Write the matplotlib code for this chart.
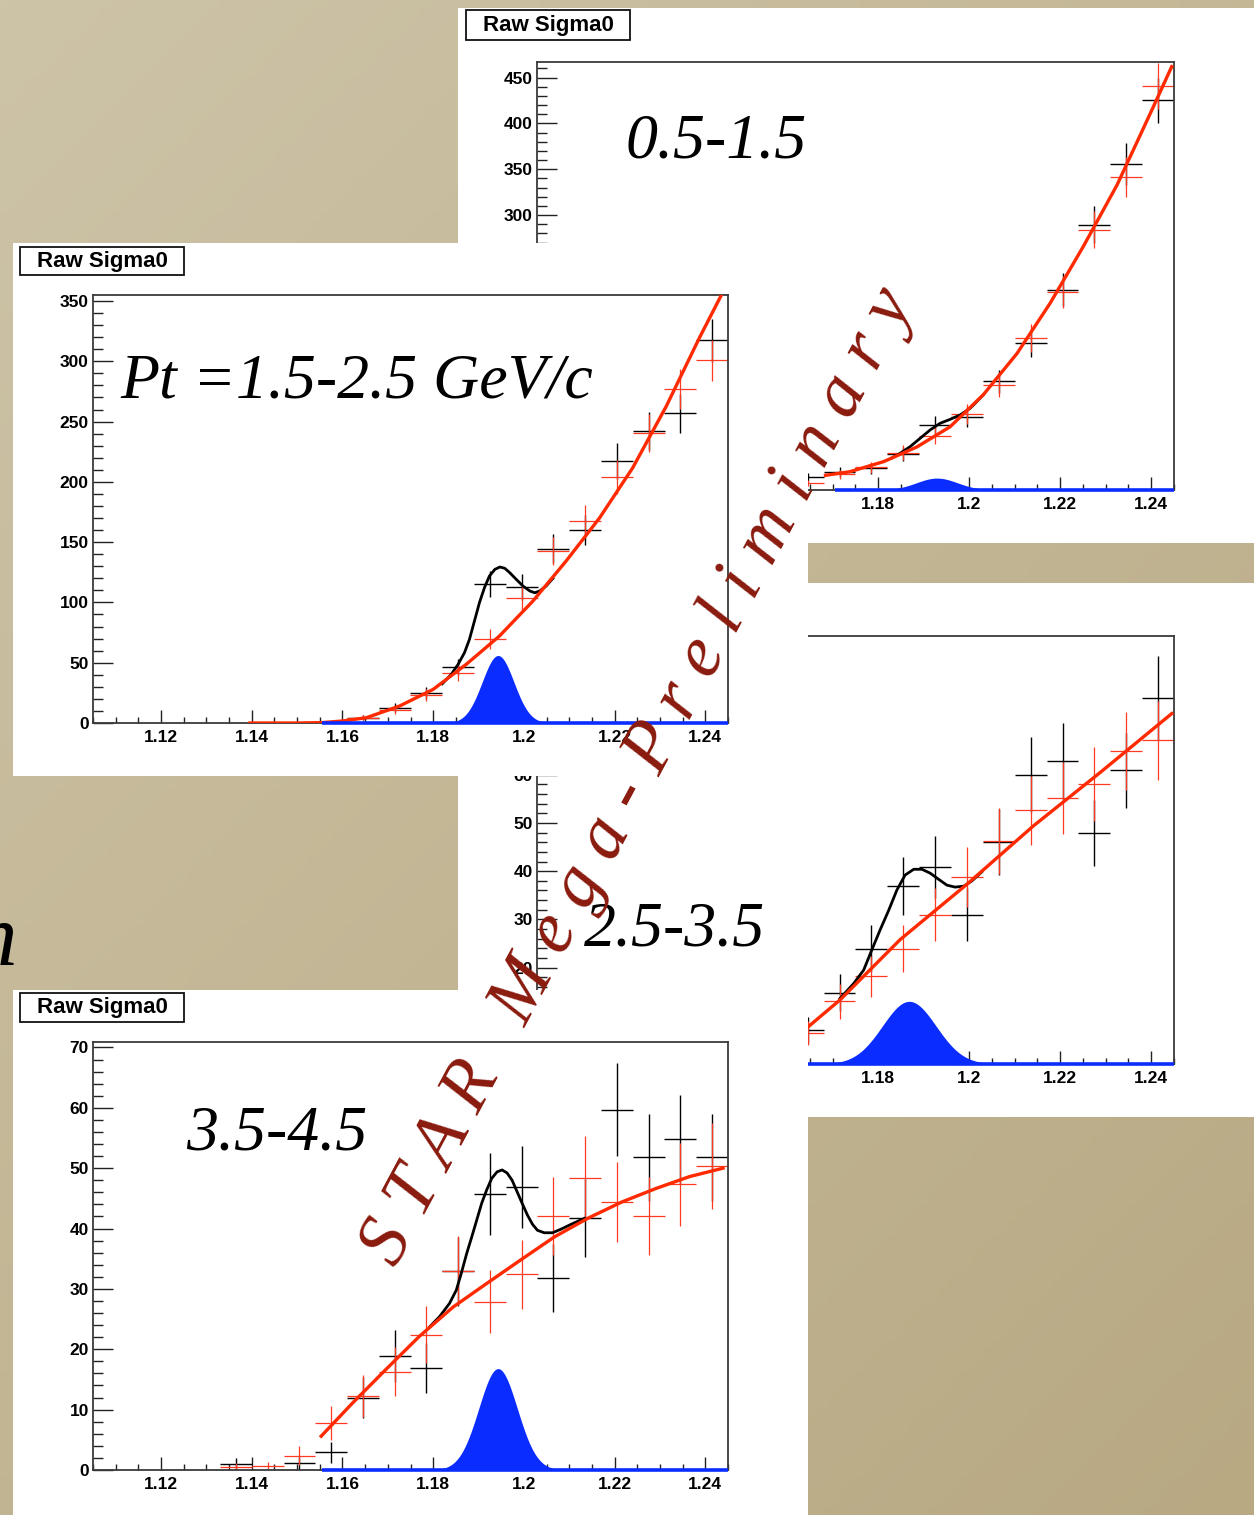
import numpy as np
import matplotlib
matplotlib.use("Agg")
import matplotlib.pyplot as plt
from matplotlib.patches import Rectangle
from matplotlib.ticker import FixedLocator, MultipleLocator, FixedFormatter
from matplotlib.colors import to_rgb

# ---------------------------------------------------------------- data
x_lo, x_hi = 1.105, 1.245
bin_width = 0.007
x_ticks = [1.12, 1.14, 1.16, 1.18, 1.20, 1.22, 1.24]
x_tick_labels = ["1.12", "1.14", "1.16", "1.18", "1.2", "1.22", "1.24"]

# Panel A : pT 0.5-1.5
a_first_bin = 8
a_same = [14.5, 19.4, 23.7, 39.4, 71, 79.5, 118.4, 160.4, 218.5, 289.5, 355.6, 425]
a_bkg = [8, 17.2, 24.8, 40.9, 59, 82.8, 114.8, 165.8, 216, 284, 341.4, 441]
a_fit_x = [1.1684, 1.1738, 1.1812, 1.1885, 1.1958, 1.2031, 1.2105, 1.2178, 1.2251, 1.2325, 1.2398, 1.2445]
a_fit_y = [16, 20, 31, 47, 69, 104, 149, 204, 266, 333, 411, 462]
a_tot_x = [1.1830, 1.1848, 1.1870, 1.1892, 1.1914, 1.1936, 1.1958, 1.1980, 1.2002, 1.2013, 1.2031]
a_tot_y = [35, 40.0, 47.3, 56.4, 65.5, 72.8, 77.1, 81.9, 89.2, 94.6, 104]
a_sig_mean, a_sig_sigma, a_sig_amp = 1.1929, 0.0045, 13.0
a_sig_start = 1.1705
a_yticks = [0, 50, 100, 150, 200, 250, 300, 350, 400, 450]
a_ymax = 467

# Panel B : pT 1.5-2.5
b_first_bin = 7
b_same = [1, 4.5, 12.7, 25.1, 46.4, 115, 112.8, 144.5, 160, 217.2, 242, 256.8, 317.6]
b_bkg = [1, 4.4, 10.5, 23.2, 41.7, 69.4, 103.4, 142.6, 167.5, 204, 240.7, 276.7, 300.7]
b_fit_x = [1.1396, 1.1500, 1.1554, 1.1601, 1.1653, 1.1726, 1.1800, 1.1873, 1.1946, 1.2020, 1.2093, 1.2167, 1.2240, 1.2314, 1.2387, 1.2445]
b_fit_y = [0, 0, 0.3, 1.7, 4.4, 14.1, 27.9, 48.7, 72.1, 101.2, 134.3, 170.2, 211.7, 262.8, 319.5, 362]
b_tot_x = [1.1820, 1.1840, 1.1855, 1.1869, 1.1880, 1.1891, 1.1902, 1.1913, 1.1924, 1.1936, 1.1947, 1.1958,
           1.1969, 1.1983, 1.1998, 1.2013, 1.2024, 1.2035, 1.2049, 1.2064]
b_tot_y = [32.5, 40.4, 48.7, 58.3, 69.4, 84.6, 99.8, 112.2, 121.9, 127.4, 129.4, 128.3,
           124.6, 119.2, 113.6, 109.5, 108.0, 109.5, 113.6, 120.0]
b_sig_mean, b_sig_sigma, b_sig_amp = 1.1943, 0.0035, 56.0
b_sig_start = 1.1554
b_yticks = [0, 50, 100, 150, 200, 250, 300, 350]
b_ymax = 355

# Panel C : pT 2.5-3.5
c_first_bin = 8
c_same = [7.1, 14.8, 23.9, 36.9, 40.9, 31.0, 46.1, 60.0, 62.8, 47.9, 60.9, 76.0]
c_bkg = [6.4, 13.0, 18.2, 23.9, 31.0, 38.8, 46.3, 52.6, 55.2, 58.1, 64.9, 67.2]
c_fit_x = [1.1500, 1.1647, 1.1716, 1.1848, 1.1995, 1.2141, 1.2288, 1.2445]
c_fit_y = [0.5, 7.8, 13.3, 25.8, 37.3, 49.4, 60.5, 72.7]
c_tot_x = [1.1716, 1.1746, 1.1768, 1.1786, 1.1804, 1.1823, 1.1841, 1.1859, 1.1878, 1.1896, 1.1914,
           1.1933, 1.1951, 1.1969, 1.1988, 1.2006, 1.2028]
c_tot_y = [13.6, 16.7, 19.5, 23.7, 27.8, 31.9, 36.1, 39.2, 40.4, 40.4, 39.6,
           38.3, 37.1, 36.7, 36.9, 38.0, 39.9]
c_sig_mean, c_sig_sigma, c_sig_amp = 1.1868, 0.0059, 13.0
c_sig_start = 1.1554
c_yticks = [0, 10, 20, 30, 40, 50, 60, 70, 80]
c_ymax = 88.8

# Panel D : pT 3.5-4.5
d_first_bin = 4
d_same = [1.0, 0, 1.1, 2.9, 12.0, 18.9, 16.9, 32.9, 45.7, 46.9, 31.8, 41.8, 59.7, 51.8, 54.8, 51.8]
d_bkg = [0.5, 0.6, 2.4, 7.8, 12.2, 16.3, 22.4, 33.0, 27.9, 32.4, 42.1, 48.4, 44.4, 42.1, 47.3, 50.4]
d_fit_x = [1.1553, 1.1621, 1.1695, 1.1769, 1.1844, 1.1918, 1.1993, 1.2067, 1.2141, 1.2216, 1.2290, 1.2365, 1.2439]
d_fit_y = [5.6, 11.0, 16.6, 22.1, 27.0, 30.9, 34.8, 38.6, 41.7, 44.4, 46.6, 48.6, 50.0]
d_tot_x = [1.1792, 1.1814, 1.1836, 1.1851, 1.1862, 1.1874, 1.1885, 1.1896, 1.1907, 1.1918, 1.1929,
           1.1941, 1.1952, 1.1963, 1.1974, 1.1985, 1.1996, 1.2008, 1.2019, 1.2030, 1.2045,
           1.2063, 1.2082, 1.2104, 1.2134]
d_tot_y = [23.7, 25.4, 27.6, 29.8, 32.6, 35.9, 38.6, 41.4, 44.2, 46.4, 48.3,
           49.4, 49.7, 49.2, 48.0, 46.1, 44.2, 42.2, 40.7, 39.7, 39.3,
           39.3, 39.9, 40.7, 41.7]
d_sig_mean, d_sig_sigma, d_sig_amp = 1.1943, 0.00425, 16.8
d_sig_start = 1.1555
d_yticks = [0, 10, 20, 30, 40, 50, 60, 70]
d_ymax = 70.9

title_text = "Raw Sigma0"
label_a = "0.5-1.5"
label_b = "Pt =1.5-2.5 GeV/c"
label_c = "2.5-3.5"
label_d = "3.5-4.5"
watermark = "S T A R   M e g a - P r e l i m i n a r y"

# ---------------------------------------------------------------- style
W, H = 1254, 1515
BLACK = "#000000"
RED_PTS = "#ff3a22"
RED_FIT = "#ff2a00"
BLUE = "#0a2cff"
WM_COLOR = "#8a1a0e"

fig = plt.figure(figsize=(W / 100, H / 100), dpi=100)

# background (paper-like tan, light top-left to darker bottom-right)
bg = fig.add_axes([0, 0, 1, 1])
bg.set_zorder(-10)
yy, xx = np.mgrid[0:1:200j, 0:1:200j]
t = (0.45 * xx + 0.55 * yy)[..., None]
c0 = np.array(to_rgb("#cdc3a7"))
c1 = np.array(to_rgb("#b8a983"))
bg.imshow(c0 * (1 - t) + c1 * t, aspect="auto", extent=[0, 1, 0, 1], origin="upper")
bg.set_axis_off()


def frect(x0, y0, x1, y1):
    return [x0 / W, 1 - y1 / H, (x1 - x0) / W, (y1 - y0) / H]


def add_rect(x0, y0, x1, y1, z, face="white", edge="none", lw=0):
    r = Rectangle((x0 / W, 1 - y1 / H), (x1 - x0) / W, (y1 - y0) / H,
                  transform=fig.transFigure, facecolor=face, edgecolor=edge,
                  linewidth=lw, zorder=z)
    fig.add_artist(r)


def panel(canvas, frame, z, first_bin, same, bkg, err_scale,
          fit_x, fit_y, tot_x, tot_y, sig, sig_start,
          yticks, ymax, yminor, title_box=None, label=None, label_pos=None):
    add_rect(*canvas, z=z)
    ax = fig.add_axes(frect(*frame))
    ax.set_zorder(z + 0.1)
    ax.patch.set_alpha(0)
    ax.set_xlim(x_lo, x_hi)
    ax.set_ylim(0, ymax)

    # histograms with errors
    for vals, col, lw in ((same, BLACK, 1.0), (bkg, RED_PTS, 0.9)):
        vals = np.asarray(vals, float)
        centers = x_lo + bin_width * (np.arange(first_bin, first_bin + len(vals)) + 0.5)
        m = vals > 0
        ax.errorbar(centers[m], vals[m], xerr=bin_width / 2,
                    yerr=err_scale * np.sqrt(vals[m]), fmt="none",
                    ecolor=col, elinewidth=lw, capsize=0, zorder=2)

    # signal gaussian
    mean, sigma, amp = sig
    xs = np.linspace(sig_start, x_hi, 600)
    g = amp * np.exp(-0.5 * ((xs - mean) / sigma) ** 2)
    ax.fill_between(xs, 0, g, color=BLUE, linewidth=0, zorder=2.2)
    ax.plot([sig_start, x_hi], [0, 0], color=BLUE, lw=2.6, clip_on=False, zorder=3.2,
            solid_capstyle="butt")

    # fits
    ax.plot(fit_x, fit_y, color=RED_FIT, lw=2.4, zorder=2.6, solid_joinstyle="round")
    ax.plot(tot_x, tot_y, color=BLACK, lw=2.0, zorder=2.5, solid_joinstyle="round")

    for s in ax.spines.values():
        s.set_color("#3a3a3a")
        s.set_linewidth(1.3)
    ax.xaxis.set_major_locator(FixedLocator(x_ticks))
    ax.xaxis.set_major_formatter(FixedFormatter(x_tick_labels))
    ax.xaxis.set_minor_locator(MultipleLocator(0.005))
    ax.yaxis.set_major_locator(FixedLocator(yticks))
    ax.yaxis.set_major_formatter(FixedFormatter([str(v) for v in yticks]))
    ax.yaxis.set_minor_locator(MultipleLocator(yminor))
    ax.tick_params(which="both", direction="in", top=False, right=False,
                   color="#222222", width=1.0)
    ax.tick_params(axis="x", which="major", length=9.5, pad=5)
    ax.tick_params(axis="x", which="minor", length=4.5)
    ax.tick_params(axis="y", which="major", length=14.5, pad=3)
    ax.tick_params(axis="y", which="minor", length=7)
    for lab in ax.get_xticklabels() + ax.get_yticklabels():
        lab.set_fontfamily("Liberation Sans")
        lab.set_fontweight("bold")
        lab.set_fontsize(12.5)

    if title_box is not None:
        x0, y0, x1, y1 = title_box
        add_rect(x0, y0, x1, y1, z=z + 0.2, face="white", edge="#111111", lw=1.3)
        fig.text((x0 + x1) / 2 / W, 1 - (y0 + y1) / 2 / H, title_text,
                 ha="center", va="center", fontsize=16, fontweight="bold",
                 family="Liberation Sans", zorder=z + 0.3)
    if label is not None:
        fig.text(label_pos[0] / W, 1 - label_pos[1] / H, label,
                 ha="left", va="baseline", fontsize=46, style="italic",
                 family="Liberation Serif", zorder=z + 0.3)
    return ax


# Panel A (top right)
panel((458, 8, 1254, 543), (537, 62, 1174, 490), 1, a_first_bin, a_same, a_bkg, 1.2,
      a_fit_x, a_fit_y, a_tot_x, a_tot_y, (a_sig_mean, a_sig_sigma, a_sig_amp), a_sig_start,
      a_yticks, a_ymax, 10, title_box=(466, 10, 630, 40), label=label_a, label_pos=(626, 158))

# Panel C (middle right)
panel((458, 583, 1254, 1117), (537, 636, 1174, 1064), 2, c_first_bin, c_same, c_bkg, 1.0,
      c_fit_x, c_fit_y, c_tot_x, c_tot_y, (c_sig_mean, c_sig_sigma, c_sig_amp), c_sig_start,
      c_yticks, c_ymax, 2, label=label_c, label_pos=(584, 945))

# Panel B (upper left)
panel((13, 243, 808, 776), (93, 295, 728, 723), 3, b_first_bin, b_same, b_bkg, 1.0,
      b_fit_x, b_fit_y, b_tot_x, b_tot_y, (b_sig_mean, b_sig_sigma, b_sig_amp), b_sig_start,
      b_yticks, b_ymax, 10, title_box=(20, 247, 184, 275), label=label_b, label_pos=(120, 398))

# Panel D (bottom left)
panel((13, 990, 808, 1515), (93, 1042, 728, 1470), 4, d_first_bin, d_same, d_bkg, 1.0,
      d_fit_x, d_fit_y, d_tot_x, d_tot_y, (d_sig_mean, d_sig_sigma, d_sig_amp), d_sig_start,
      d_yticks, d_ymax, 2, title_box=(20, 993, 184, 1022), label=label_d, label_pos=(186, 1150))

# partial slide text at the left edge
fig.text(17 / W, 1 - 965 / H, "n", ha="right", va="baseline", fontsize=64,
         style="italic", family="Liberation Serif", zorder=0.5)

# watermark
fig.text(655 / W, 1 - 785 / H, watermark, rotation=61.8, rotation_mode="anchor",
         ha="center", va="baseline", fontsize=53, style="italic",
         family="Liberation Serif", color=WM_COLOR, zorder=50)

fig.savefig("out.png", dpi=100)
